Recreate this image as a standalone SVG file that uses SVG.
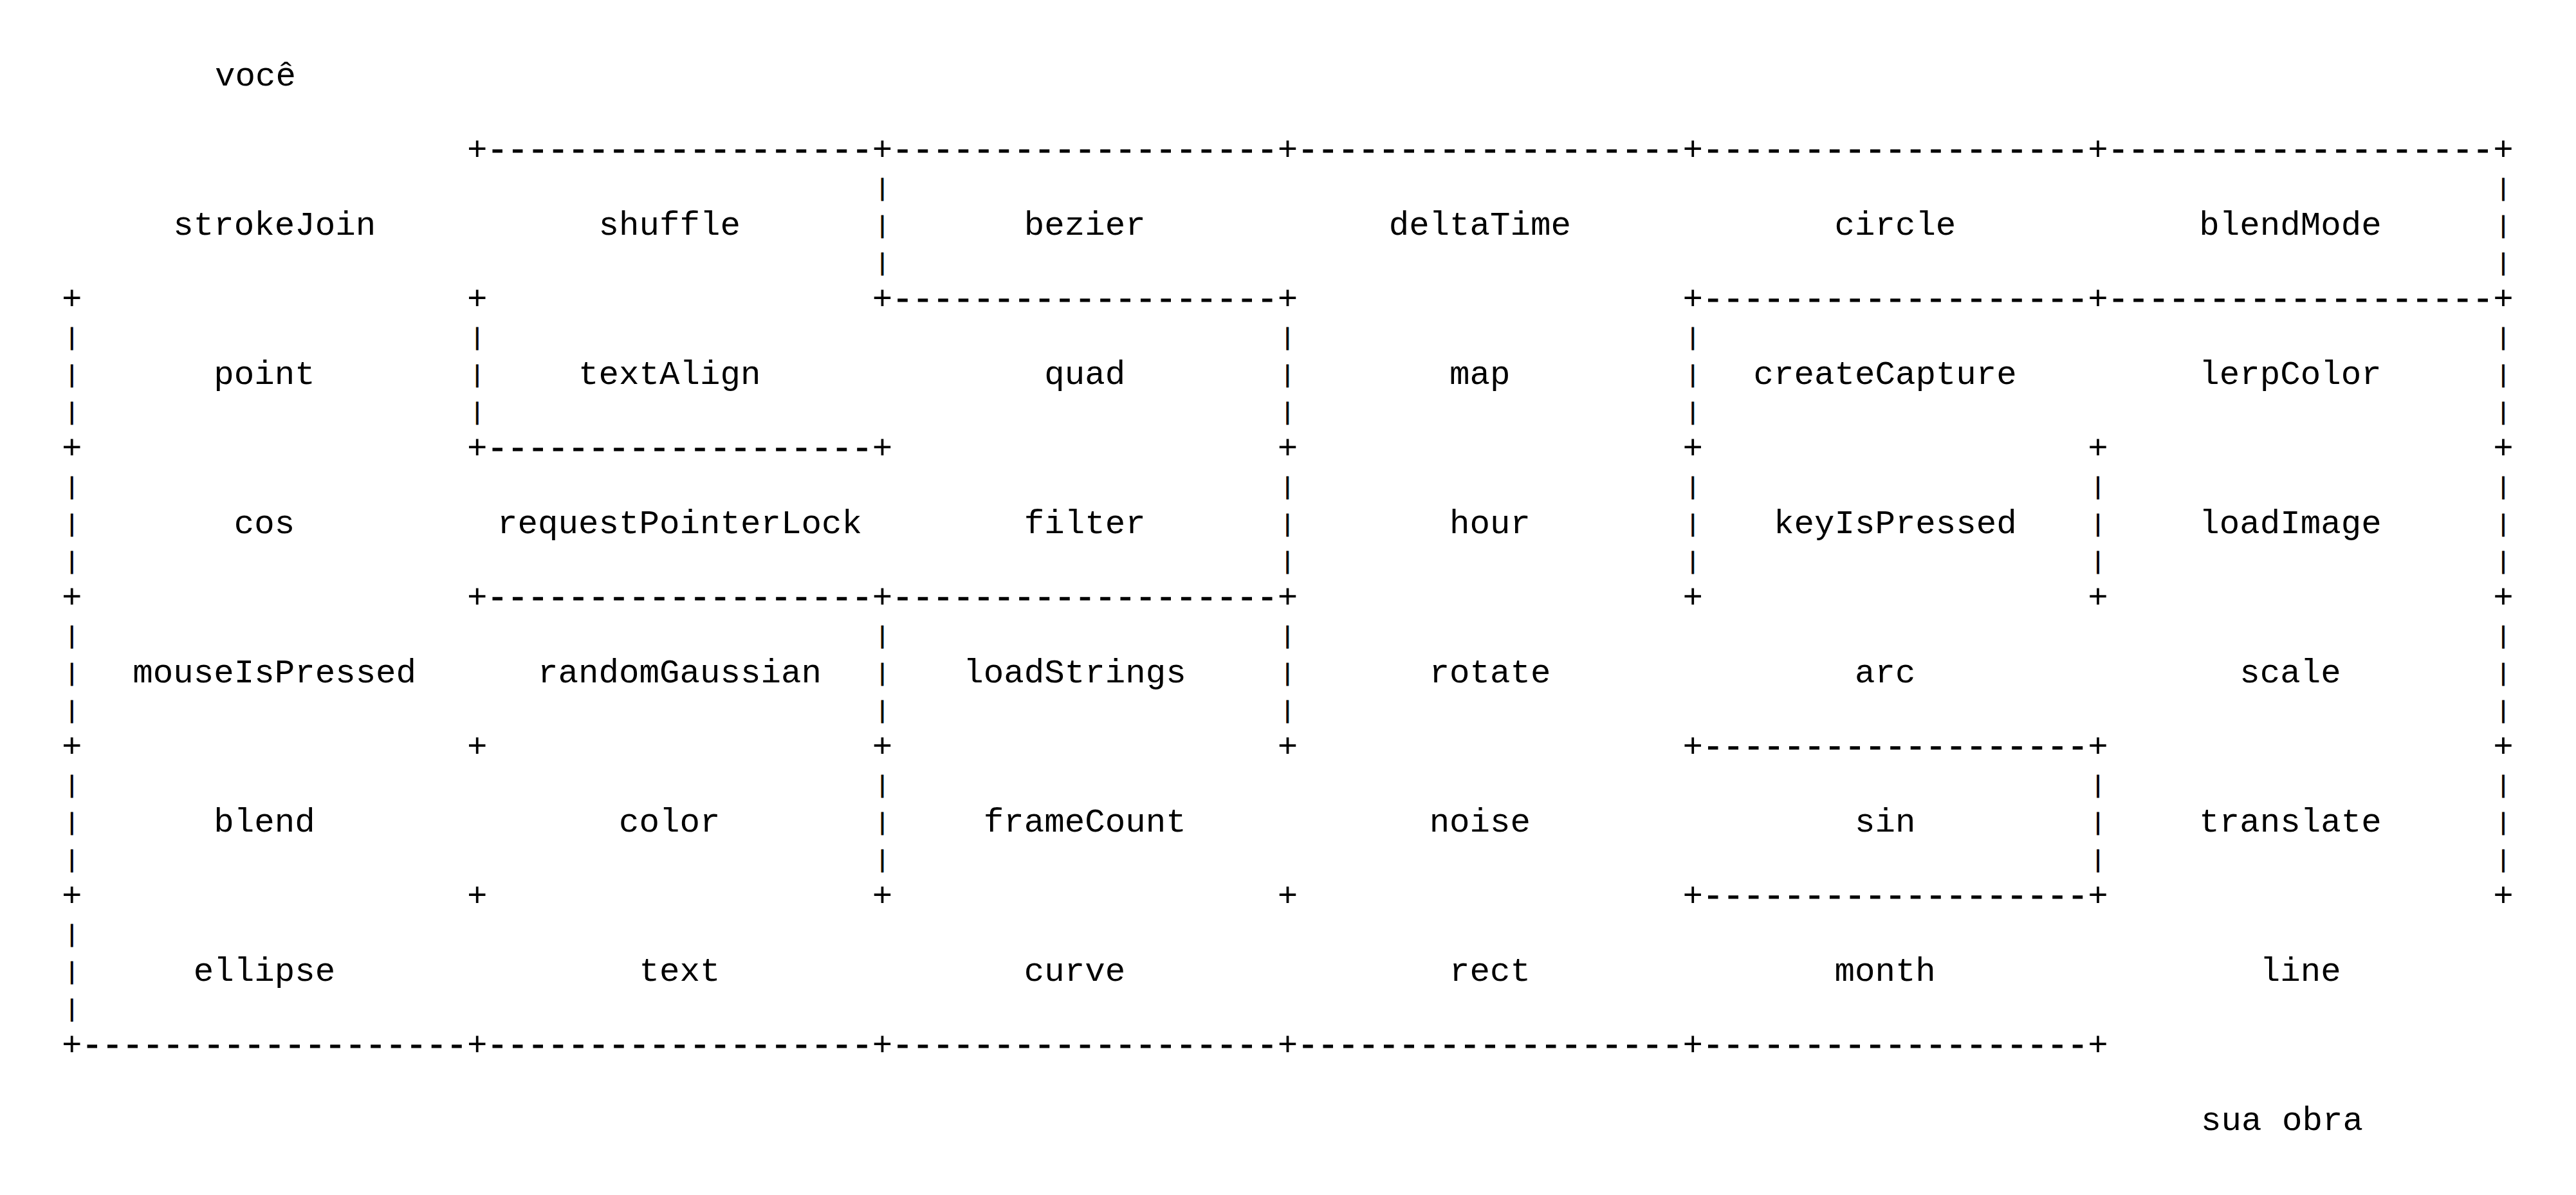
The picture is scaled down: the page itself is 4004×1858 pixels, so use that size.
<svg xmlns="http://www.w3.org/2000/svg" width="4004" height="1858" viewBox="0 0 4004 1858">
<style>
text{font-family:"Liberation Mono","Courier New",monospace;font-size:52.48px;fill:#000;}
.lbl{text-anchor:middle;}
.c{text-anchor:middle;}
.d{stroke:#000;stroke-width:1.2px;}
.p{text-anchor:middle;font-size:36.7px;stroke:#000;stroke-width:0.8px;}
#maze-walls{opacity:0.999;}
</style>
<rect x="0" y="0" width="4004" height="1858" fill="#ffffff"/>
<g id="maze-walls">
<g id="border-line-2">
<text class="c" x="741.66" y="248.5">+</text>
<text class="d" x="757.41" y="248.5">-------------------</text>
<text class="c" x="1371.52" y="248.5">+</text>
<text class="d" x="1387.27" y="248.5">-------------------</text>
<text class="c" x="2001.38" y="248.5">+</text>
<text class="d" x="2017.13" y="248.5">-------------------</text>
<text class="c" x="2631.24" y="248.5">+</text>
<text class="d" x="2646.99" y="248.5">-------------------</text>
<text class="c" x="3261.1" y="248.5">+</text>
<text class="d" x="3276.85" y="248.5">-------------------</text>
<text class="c" x="3890.96" y="248.5">+</text>
</g>
<g id="walls-row-0">
<text class="p" x="1371.52" y="303.6">|</text>
<text class="p" x="1371.52" y="361.6">|</text>
<text class="p" x="1371.52" y="419.6">|</text>
<text class="p" x="3890.96" y="303.6">|</text>
<text class="p" x="3890.96" y="361.6">|</text>
<text class="p" x="3890.96" y="419.6">|</text>
</g>
<g id="border-line-6">
<text class="c" x="111.8" y="480.5">+</text>
<text class="c" x="741.66" y="480.5">+</text>
<text class="c" x="1371.52" y="480.5">+</text>
<text class="d" x="1387.27" y="480.5">-------------------</text>
<text class="c" x="2001.38" y="480.5">+</text>
<text class="c" x="2631.24" y="480.5">+</text>
<text class="d" x="2646.99" y="480.5">-------------------</text>
<text class="c" x="3261.1" y="480.5">+</text>
<text class="d" x="3276.85" y="480.5">-------------------</text>
<text class="c" x="3890.96" y="480.5">+</text>
</g>
<g id="walls-row-1">
<text class="p" x="111.8" y="535.6">|</text>
<text class="p" x="111.8" y="593.6">|</text>
<text class="p" x="111.8" y="651.6">|</text>
<text class="p" x="741.66" y="535.6">|</text>
<text class="p" x="741.66" y="593.6">|</text>
<text class="p" x="741.66" y="651.6">|</text>
<text class="p" x="2001.38" y="535.6">|</text>
<text class="p" x="2001.38" y="593.6">|</text>
<text class="p" x="2001.38" y="651.6">|</text>
<text class="p" x="2631.24" y="535.6">|</text>
<text class="p" x="2631.24" y="593.6">|</text>
<text class="p" x="2631.24" y="651.6">|</text>
<text class="p" x="3890.96" y="535.6">|</text>
<text class="p" x="3890.96" y="593.6">|</text>
<text class="p" x="3890.96" y="651.6">|</text>
</g>
<g id="border-line-10">
<text class="c" x="111.8" y="712.5">+</text>
<text class="c" x="741.66" y="712.5">+</text>
<text class="d" x="757.41" y="712.5">-------------------</text>
<text class="c" x="1371.52" y="712.5">+</text>
<text class="c" x="2001.38" y="712.5">+</text>
<text class="c" x="2631.24" y="712.5">+</text>
<text class="c" x="3261.1" y="712.5">+</text>
<text class="c" x="3890.96" y="712.5">+</text>
</g>
<g id="walls-row-2">
<text class="p" x="111.8" y="767.6">|</text>
<text class="p" x="111.8" y="825.6">|</text>
<text class="p" x="111.8" y="883.6">|</text>
<text class="p" x="2001.38" y="767.6">|</text>
<text class="p" x="2001.38" y="825.6">|</text>
<text class="p" x="2001.38" y="883.6">|</text>
<text class="p" x="2631.24" y="767.6">|</text>
<text class="p" x="2631.24" y="825.6">|</text>
<text class="p" x="2631.24" y="883.6">|</text>
<text class="p" x="3261.1" y="767.6">|</text>
<text class="p" x="3261.1" y="825.6">|</text>
<text class="p" x="3261.1" y="883.6">|</text>
<text class="p" x="3890.96" y="767.6">|</text>
<text class="p" x="3890.96" y="825.6">|</text>
<text class="p" x="3890.96" y="883.6">|</text>
</g>
<g id="border-line-14">
<text class="c" x="111.8" y="944.5">+</text>
<text class="c" x="741.66" y="944.5">+</text>
<text class="d" x="757.41" y="944.5">-------------------</text>
<text class="c" x="1371.52" y="944.5">+</text>
<text class="d" x="1387.27" y="944.5">-------------------</text>
<text class="c" x="2001.38" y="944.5">+</text>
<text class="c" x="2631.24" y="944.5">+</text>
<text class="c" x="3261.1" y="944.5">+</text>
<text class="c" x="3890.96" y="944.5">+</text>
</g>
<g id="walls-row-3">
<text class="p" x="111.8" y="999.6">|</text>
<text class="p" x="111.8" y="1057.6">|</text>
<text class="p" x="111.8" y="1115.6">|</text>
<text class="p" x="1371.52" y="999.6">|</text>
<text class="p" x="1371.52" y="1057.6">|</text>
<text class="p" x="1371.52" y="1115.6">|</text>
<text class="p" x="2001.38" y="999.6">|</text>
<text class="p" x="2001.38" y="1057.6">|</text>
<text class="p" x="2001.38" y="1115.6">|</text>
<text class="p" x="3890.96" y="999.6">|</text>
<text class="p" x="3890.96" y="1057.6">|</text>
<text class="p" x="3890.96" y="1115.6">|</text>
</g>
<g id="border-line-18">
<text class="c" x="111.8" y="1176.5">+</text>
<text class="c" x="741.66" y="1176.5">+</text>
<text class="c" x="1371.52" y="1176.5">+</text>
<text class="c" x="2001.38" y="1176.5">+</text>
<text class="c" x="2631.24" y="1176.5">+</text>
<text class="d" x="2646.99" y="1176.5">-------------------</text>
<text class="c" x="3261.1" y="1176.5">+</text>
<text class="c" x="3890.96" y="1176.5">+</text>
</g>
<g id="walls-row-4">
<text class="p" x="111.8" y="1231.6">|</text>
<text class="p" x="111.8" y="1289.6">|</text>
<text class="p" x="111.8" y="1347.6">|</text>
<text class="p" x="1371.52" y="1231.6">|</text>
<text class="p" x="1371.52" y="1289.6">|</text>
<text class="p" x="1371.52" y="1347.6">|</text>
<text class="p" x="3261.1" y="1231.6">|</text>
<text class="p" x="3261.1" y="1289.6">|</text>
<text class="p" x="3261.1" y="1347.6">|</text>
<text class="p" x="3890.96" y="1231.6">|</text>
<text class="p" x="3890.96" y="1289.6">|</text>
<text class="p" x="3890.96" y="1347.6">|</text>
</g>
<g id="border-line-22">
<text class="c" x="111.8" y="1408.5">+</text>
<text class="c" x="741.66" y="1408.5">+</text>
<text class="c" x="1371.52" y="1408.5">+</text>
<text class="c" x="2001.38" y="1408.5">+</text>
<text class="c" x="2631.24" y="1408.5">+</text>
<text class="d" x="2646.99" y="1408.5">-------------------</text>
<text class="c" x="3261.1" y="1408.5">+</text>
<text class="c" x="3890.96" y="1408.5">+</text>
</g>
<g id="walls-row-5">
<text class="p" x="111.8" y="1463.6">|</text>
<text class="p" x="111.8" y="1521.6">|</text>
<text class="p" x="111.8" y="1579.6">|</text>
</g>
<g id="border-line-26">
<text class="c" x="111.8" y="1640.5">+</text>
<text class="d" x="127.54" y="1640.5">-------------------</text>
<text class="c" x="741.66" y="1640.5">+</text>
<text class="d" x="757.41" y="1640.5">-------------------</text>
<text class="c" x="1371.52" y="1640.5">+</text>
<text class="d" x="1387.27" y="1640.5">-------------------</text>
<text class="c" x="2001.38" y="1640.5">+</text>
<text class="d" x="2017.13" y="1640.5">-------------------</text>
<text class="c" x="2631.24" y="1640.5">+</text>
<text class="d" x="2646.99" y="1640.5">-------------------</text>
<text class="c" x="3261.1" y="1640.5">+</text>
</g>
</g>
<g id="start"><text x="334" y="132.5">você</text></g>
<g id="end"><text x="3421" y="1756.5">sua obra</text></g>
<g id="cell-strokeJoin"><text class="lbl" x="426.7" y="364.5">strokeJoin</text></g>
<g id="cell-shuffle"><text class="lbl" x="1040.75" y="364.5">shuffle</text></g>
<g id="cell-bezier"><text class="lbl" x="1686.3" y="364.5">bezier</text></g>
<g id="cell-deltaTime"><text class="lbl" x="2300.35" y="364.5">deltaTime</text></g>
<g id="cell-circle"><text class="lbl" x="2945.9" y="364.5">circle</text></g>
<g id="cell-blendMode"><text class="lbl" x="3559.95" y="364.5">blendMode</text></g>
<g id="cell-point"><text class="lbl" x="410.95" y="596.5">point</text></g>
<g id="cell-textAlign"><text class="lbl" x="1040.75" y="596.5">textAlign</text></g>
<g id="cell-quad"><text class="lbl" x="1686.3" y="596.5">quad</text></g>
<g id="cell-map"><text class="lbl" x="2300.35" y="596.5">map</text></g>
<g id="cell-createCapture"><text class="lbl" x="2930.15" y="596.5">createCapture</text></g>
<g id="cell-lerpColor"><text class="lbl" x="3559.95" y="596.5">lerpColor</text></g>
<g id="cell-cos"><text class="lbl" x="410.95" y="828.5">cos</text></g>
<g id="cell-requestPointerLock"><text class="lbl" x="1056.5" y="828.5">requestPointerLock</text></g>
<g id="cell-filter"><text class="lbl" x="1686.3" y="828.5">filter</text></g>
<g id="cell-hour"><text class="lbl" x="2316.1" y="828.5">hour</text></g>
<g id="cell-keyIsPressed"><text class="lbl" x="2945.9" y="828.5">keyIsPressed</text></g>
<g id="cell-loadImage"><text class="lbl" x="3559.95" y="828.5">loadImage</text></g>
<g id="cell-mouseIsPressed"><text class="lbl" x="426.7" y="1060.5">mouseIsPressed</text></g>
<g id="cell-randomGaussian"><text class="lbl" x="1056.5" y="1060.5">randomGaussian</text></g>
<g id="cell-loadStrings"><text class="lbl" x="1670.55" y="1060.5">loadStrings</text></g>
<g id="cell-rotate"><text class="lbl" x="2316.1" y="1060.5">rotate</text></g>
<g id="cell-arc"><text class="lbl" x="2930.15" y="1060.5">arc</text></g>
<g id="cell-scale"><text class="lbl" x="3559.95" y="1060.5">scale</text></g>
<g id="cell-blend"><text class="lbl" x="410.95" y="1292.5">blend</text></g>
<g id="cell-color"><text class="lbl" x="1040.75" y="1292.5">color</text></g>
<g id="cell-frameCount"><text class="lbl" x="1686.3" y="1292.5">frameCount</text></g>
<g id="cell-noise"><text class="lbl" x="2300.35" y="1292.5">noise</text></g>
<g id="cell-sin"><text class="lbl" x="2930.15" y="1292.5">sin</text></g>
<g id="cell-translate"><text class="lbl" x="3559.95" y="1292.5">translate</text></g>
<g id="cell-ellipse"><text class="lbl" x="410.95" y="1524.5">ellipse</text></g>
<g id="cell-text"><text class="lbl" x="1056.5" y="1524.5">text</text></g>
<g id="cell-curve"><text class="lbl" x="1670.55" y="1524.5">curve</text></g>
<g id="cell-rect"><text class="lbl" x="2316.1" y="1524.5">rect</text></g>
<g id="cell-month"><text class="lbl" x="2930.15" y="1524.5">month</text></g>
<g id="cell-line"><text class="lbl" x="3575.7" y="1524.5">line</text></g>
</svg>
